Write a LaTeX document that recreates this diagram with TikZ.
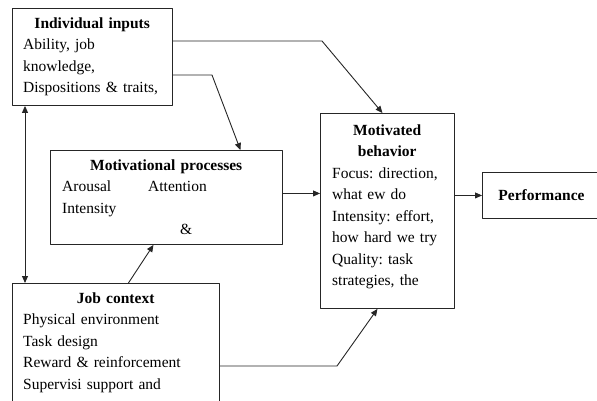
\documentclass[tikz,border=0pt]{standalone}
\usepackage{fontspec}
\setmainfont{Liberation Serif}
\usetikzlibrary{arrows.meta}
\begin{document}
\begin{tikzpicture}[x=1pt, y=-1pt, line cap=round, line join=round, >={Triangle[length=7pt,width=6pt]}, font=\fontsize{15.5pt}{21.5pt}\selectfont\frenchspacing]
			\tikzset{box/.style={draw=black!85, line width=0.9pt, rectangle, anchor=north west, inner sep=0pt},
				txt/.style={anchor=base west, inner sep=0pt, align=left},
				link/.style={draw=black!85, line width=0.9pt, ->}}
			\useasboundingbox (0,0) rectangle (597,400);
			\clip (0,0) rectangle (597,400);
			% boxes
			\node[box, minimum width=160pt, minimum height=97pt] (inputs) at (12,8) {};
			\node[box, minimum width=232pt, minimum height=94pt] (procs) at (50,150) {};
			\node[box, minimum width=207pt, minimum height=140pt] (job) at (12,283) {};
			\node[box, minimum width=134pt, minimum height=195pt] (behav) at (320,113) {};
			\node[box, minimum height=46pt, inner xsep=16pt] (perf) at (482,172) {\textbf{Performance}};
			% texts
			\node[txt, text width=138pt] (inputs-t) at ([shift={(11pt,-20pt)}]inputs.north west)
				{{\centering\bfseries Individual inputs\par}Ability, job\\ knowledge,\\ Dispositions \& traits,};
			\node[txt, text width=208pt] (procs-t) at ([shift={(12pt,-20pt)}]procs.north west)
				{{\centering\bfseries Motivational processes\par}\makebox[86pt][l]{Arousal}Attention\\ Intensity\\ \hspace*{118pt}\&};
			\node[txt, text width=185pt] (job-t) at ([shift={(11pt,-20pt)}]job.north west)
				{{\centering\bfseries Job context\par}Physical environment\\ Task design\\ Reward \& reinforcement\\ Supervisi support and};
			\node[txt, text width=110pt] (behav-t) at ([shift={(12pt,-22pt)}]behav.north west)
				{{\centering\bfseries Motivated\\ behavior\par}Focus: direction,\\ what ew do\\ Intensity: effort,\\ how hard we try\\ Quality: task\\ strategies, the};
			% bends
			\coordinate (k1) at (322,41);
			\coordinate (k2) at (212,75);
			\coordinate (k3) at (337,366);
			\coordinate (lx) at (25,0);
			% links
			\draw[link] (inputs.east |- k1) -- (k1) -- ([xshift=-5pt]behav.north);
			\draw[link] (inputs.east |- k2) -- (k2) -- ([xshift=74pt]procs.north);
			\draw[link, <->] (inputs.south -| lx) -- (job.north -| lx);
			\draw[link] ([xshift=12.5pt]job.north) -- ([xshift=-13pt]procs.south);
			\draw[link] ([yshift=4pt]procs.east) -- ([yshift=4pt]procs.east -| behav.west);
			\draw[link] (job.east |- k3) -- (k3) -- ([xshift=-10pt]behav.south);
			\draw[link] (perf.west -| behav.east) -- (perf.west);
		\end{tikzpicture}
\end{document}
